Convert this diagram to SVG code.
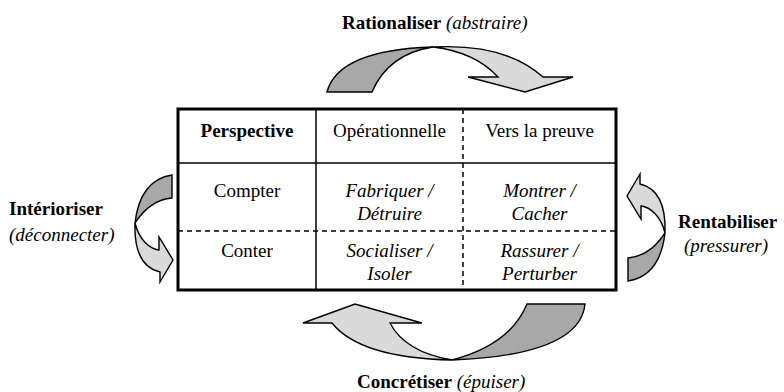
<svg xmlns="http://www.w3.org/2000/svg" width="784" height="392" viewBox="0 0 784 392">
<style>
text{font-family:"Liberation Serif","Times New Roman",serif;font-size:19px;fill:#000}
.b{font-weight:bold}
.i{font-style:italic}
.c{text-anchor:middle}
.dark{fill:#a8a8a8;stroke:#000;stroke-width:1.4;stroke-linejoin:miter}
.light{fill:#dadada;stroke:#000;stroke-width:1.4;stroke-linejoin:miter}
.solid{stroke:#000;stroke-width:1.5;fill:none}
.dash{stroke:#000;stroke-width:1.5;fill:none;stroke-dasharray:5 4}
</style>
<rect width="784" height="392" fill="#fff"/>
<g id="connectors">
  <g id="arrow-top">
    <path class="dark" d="M327,92 Q338,50 433,47 Q388,54 372,92 Z"/>
    <path class="light" d="M433,47 Q505,43 543,77 L573,77 L525,92 L468,77 L498,77 Q475,52 433,47 Z"/>
  </g>
  <g id="arrow-left">
    <path class="dark" d="M172,175 Q140,180 135,223 Q150,200 172,198 Z"/>
    <path class="light" d="M135,223 C134,252 143,268 160,272 L160,282 L173,260 L159,237 L159,250 C150,249 139,240 135,223 Z"/>
  </g>
  <g id="arrow-right" transform="matrix(-1,0,0,-1,800,456)">
    <path class="dark" d="M172,175 Q140,180 135,223 Q150,200 172,198 Z"/>
    <path class="light" d="M135,223 C134,252 143,268 160,272 L160,282 L173,260 L159,237 L159,250 C150,249 139,240 135,223 Z"/>
  </g>
  <g id="arrow-bottom">
    <path class="dark" d="M527,304 L585,304 Q580,355 452,360 Q510,345 527,304 Z"/>
    <path class="light" d="M452,360 Q360,358 332,323 L303,323 L355,304 L422,323 L390,323 Q405,352 452,360 Z"/>
  </g>
</g>
<g id="table">
  <rect x="178" y="109" width="438" height="181" fill="none" stroke="#000" stroke-width="3"/>
  <line class="solid" x1="178" y1="163" x2="616" y2="163"/>
  <line class="solid" x1="316" y1="109" x2="316" y2="290"/>
  <line class="dash" x1="463" y1="109" x2="463" y2="290"/>
  <line class="dash" x1="178" y1="231" x2="616" y2="231"/>
</g>
<g id="cell-header">
  <text class="b c" x="247" y="137">Perspective</text>
  <text class="c" x="389.5" y="137">Opérationnelle</text>
  <text class="c" x="539.5" y="137">Vers la preuve</text>
</g>
<g id="row-compter">
  <text class="c" x="247" y="197">Compter</text>
  <text class="i c" x="389.5" y="197">Fabriquer /</text>
  <text class="i c" x="389.5" y="220">Détruire</text>
  <text class="i c" x="539.5" y="197">Montrer /</text>
  <text class="i c" x="539.5" y="220">Cacher</text>
</g>
<g id="row-conter">
  <text class="c" x="247" y="257">Conter</text>
  <text class="i c" x="389.5" y="257">Socialiser /</text>
  <text class="i c" x="389.5" y="280">Isoler</text>
  <text class="i c" x="539.5" y="257">Rassurer /</text>
  <text class="i c" x="539.5" y="280">Perturber</text>
</g>
<g id="label-top">
  <text x="342" y="29"><tspan class="b">Rationaliser</tspan> <tspan class="i">(abstraire)</tspan></text>
</g>
<g id="label-left">
  <text class="b" x="9" y="215">Intérioriser</text>
  <text class="i" x="9" y="241">(déconnecter)</text>
</g>
<g id="label-right">
  <text class="b" x="678" y="228">Rentabiliser</text>
  <text class="i" x="684" y="252">(pressurer)</text>
</g>
<g id="label-bottom">
  <text x="357" y="388"><tspan class="b">Concrétiser</tspan> <tspan class="i">(épuiser)</tspan></text>
</g>
</svg>
